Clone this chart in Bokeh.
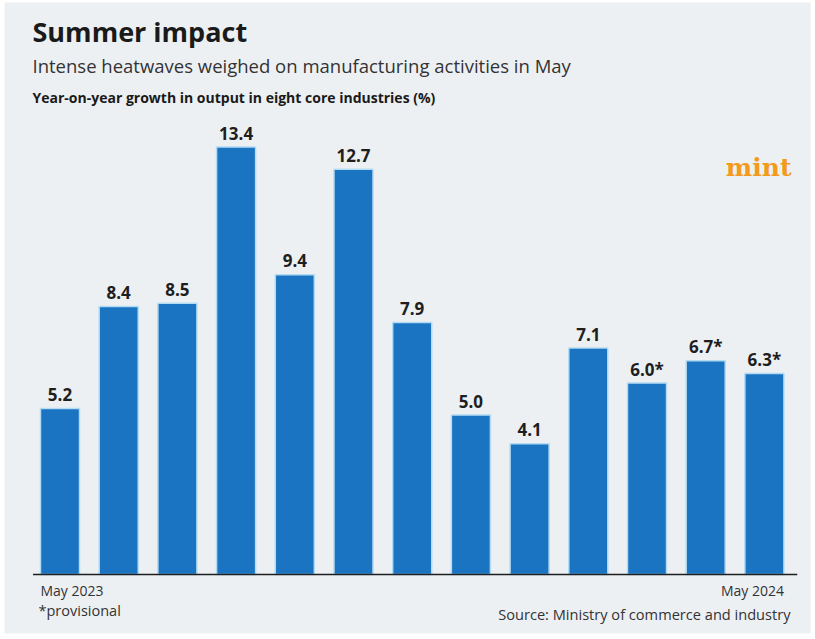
from bokeh.plotting import figure
from bokeh.models import ColumnDataSource, Range1d, Label, BoxAnnotation
from bokeh.core.properties import value
from bokeh.embed import file_html
from bokeh.resources import INLINE

# ---- data ----
months = ["May 2023", "Jun 2023", "Jul 2023", "Aug 2023", "Sep 2023", "Oct 2023",
          "Nov 2023", "Dec 2023", "Jan 2024", "Feb 2024", "Mar 2024", "Apr 2024", "May 2024"]
growth = [5.2, 8.4, 8.5, 13.4, 9.4, 12.7, 7.9, 5.0, 4.1, 7.1, 6.0, 6.7, 6.3]
provisional = [False] * 10 + [True, True, True]

title = "Summer impact"
subtitle = "Intense heatwaves weighed on manufacturing activities in May"
unit_note = "Year-on-year growth in output in eight core industries (%)"
footnote = "*provisional"
source_note = "Source: Ministry of commerce and industry"

# ---- layout helpers (pixel scale) ----
W, H = 815, 639
PX_PER_X = 58.7
PX_PER_Y = 31.9
xa = -59.5 / PX_PER_X
xb = xa + W / PX_PER_X
yb = 574 / PX_PER_Y
ya = yb - H / PX_PER_Y

def px(xp):
    return xa + xp / PX_PER_X

def py(yp):
    return yb - yp / PX_PER_Y

FONT = "Open Sans"
BAR_W = 0.665

idx = list(range(len(months)))
labels = [f"{v:.1f}" + ("*" if pr else "") for v, pr in zip(growth, provisional)]
src = ColumnDataSource(dict(x=idx, top=growth, label=labels, month=months))

p = figure(width=W, height=H, x_range=Range1d(xa, xb), y_range=Range1d(ya, yb),
           output_backend="svg", toolbar_location=None,
           x_axis_location=None, y_axis_location=None,
           min_border=0, outline_line_color=None,
           background_fill_color="white", border_fill_color="white")
p.xgrid.grid_line_color = None
p.ygrid.grid_line_color = None

# panel background
p.add_layout(BoxAnnotation(left=px(4), right=px(810), top=py(2), bottom=py(633),
                           fill_color="#edf0f3", fill_alpha=1.0, line_color=None,
                           level="underlay"))

# bars
p.vbar(x="x", top="top", bottom=0, width=BAR_W, source=src,
       fill_color="#1a74c1", line_color="#b3dbf4", line_width=1.5)

# baseline
p.segment(x0=[idx[0] - 0.46], x1=[idx[-1] + 0.56], y0=[0], y1=[0],
          line_color="#1e1e1e", line_width=1.5)

# value labels
p.text(x="x", y="top", text="label", source=src, text_align="center",
       text_baseline="alphabetic", y_offset=-14,
       text_font=value(FONT), text_font_size="17px", text_font_style="bold",
       text_color="#1e1e1e")

# first / last month labels
edge_src = ColumnDataSource(dict(x=[idx[0] - BAR_W / 2, idx[-1] + BAR_W / 2],
                                 y=[0, 0], t=[months[0], months[-1]],
                                 align=["left", "right"]))
p.text(x="x", y="y", text="t", source=edge_src, text_align="align",
       text_baseline="alphabetic", y_offset=16,
       text_font=value(FONT), text_font_size="14px", text_color="#333333")

# header texts
p.add_layout(Label(x=px(32), y=py(31), text=title, text_font=FONT,
                   text_font_size="27px", text_font_style="bold",
                   text_color="#1a1a1a", text_baseline="alphabetic"))
p.add_layout(Label(x=px(32), y=py(65), text=subtitle, text_font=FONT,
                   text_font_size="18.5px", text_color="#333333",
                   text_baseline="alphabetic"))
p.add_layout(Label(x=px(32), y=py(97), text=unit_note, text_font=FONT,
                   text_font_size="14px", text_font_style="bold",
                   text_color="#1a1a1a", text_baseline="alphabetic"))

# logo
p.add_layout(Label(x=px(791), y=py(167), text="mint", text_font="DejaVu Serif",
                   text_font_size="25px", text_font_style="bold",
                   text_color="#f39a1b", text_align="right",
                   text_baseline="alphabetic"))

# footnotes
p.add_layout(Label(x=px(38), y=py(610), text=footnote, text_font=FONT,
                   text_font_size="14.5px", text_color="#333333",
                   text_baseline="alphabetic"))
p.add_layout(Label(x=px(790), y=py(613), text=source_note, text_font=FONT,
                   text_font_size="14.6px", text_color="#333333",
                   text_align="right", text_baseline="alphabetic"))

open("out.html", "w").write(file_html(p, INLINE))
